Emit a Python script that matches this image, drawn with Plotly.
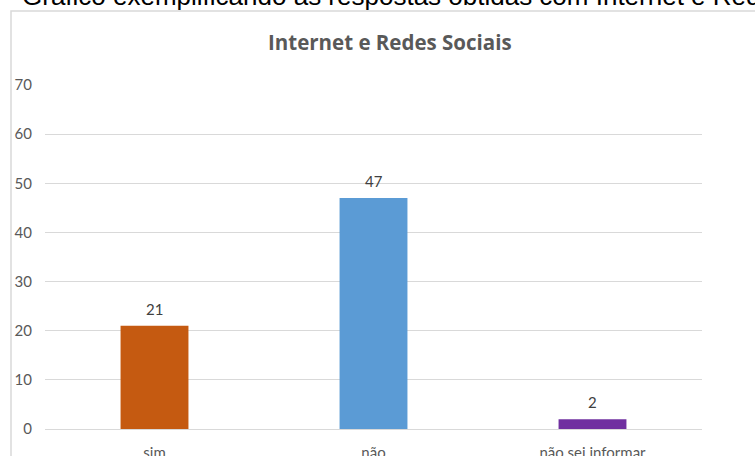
import plotly.graph_objects as go

categories = ["sim", "não", "não sei informar"]
values = [21, 47, 2]
colors = ["#C55A11", "#5B9BD5", "#7030A0"]
y_ticks = [0, 10, 20, 30, 40, 50, 60, 70]

W, H = 755, 456
L, R, T, B = 45, 53, 85, 27
pw, ph = W - L - R, H - T - B

def px_x(p):
    return (p - L) / pw

def px_y(p):
    return (H - B - p) / ph

fig = go.Figure()
fig.add_trace(go.Bar(
    x=categories, y=values,
    marker=dict(color=colors, line=dict(width=0)),
    width=0.31,
    cliponaxis=False,
))

for c, v in zip(categories, values):
    fig.add_annotation(x=c, y=v, text=str(v), showarrow=False,
                       xanchor="center", yanchor="bottom", yshift=6,
                       font=dict(family="Lato", size=15, color="#404040"))

fig.update_layout(
    width=W, height=H,
    margin=dict(l=L, r=R, t=T, b=B, autoexpand=False),
    paper_bgcolor="white", plot_bgcolor="white",
    showlegend=False,
    xaxis=dict(showgrid=False, showline=True, linecolor="#D9D9D9", linewidth=1,
               automargin=False,
               tickfont=dict(family="Lato", size=15, color="#595959"),
               ticklabelstandoff=10),
    yaxis=dict(range=[0, 70], tickvals=y_ticks, showgrid=True, gridcolor="#D9D9D9",
               gridwidth=1, zeroline=False, showline=False, automargin=False,
               tickfont=dict(family="Lato", size=15, color="#595959"),
               ticklabelstandoff=12),
    font=dict(family="Lato"),
)

fig.add_shape(type="rect", xref="paper", yref="paper",
              x0=px_x(11), x1=px_x(770), y0=px_y(470), y1=px_y(11),
              line=dict(color="#D9D9D9", width=1.5), fillcolor="rgba(0,0,0,0)",
              layer="below")

fig.add_annotation(text="<b>Internet e Redes Sociais</b>", xref="paper", yref="paper",
                   x=px_x(390), y=px_y(42), showarrow=False,
                   font=dict(family="Open Sans", size=20.5, color="#595959"),
                   xanchor="center", yanchor="middle")

fig.add_annotation(text="Gráfico exemplificando as respostas obtidas com Internet e Redes Sociais",
                   xref="paper", yref="paper", x=px_x(20), y=px_y(-4.5), showarrow=False,
                   font=dict(family="Liberation Sans", size=26, color="#000000"),
                   xanchor="left", yanchor="middle")

fig.write_html("out.html")
